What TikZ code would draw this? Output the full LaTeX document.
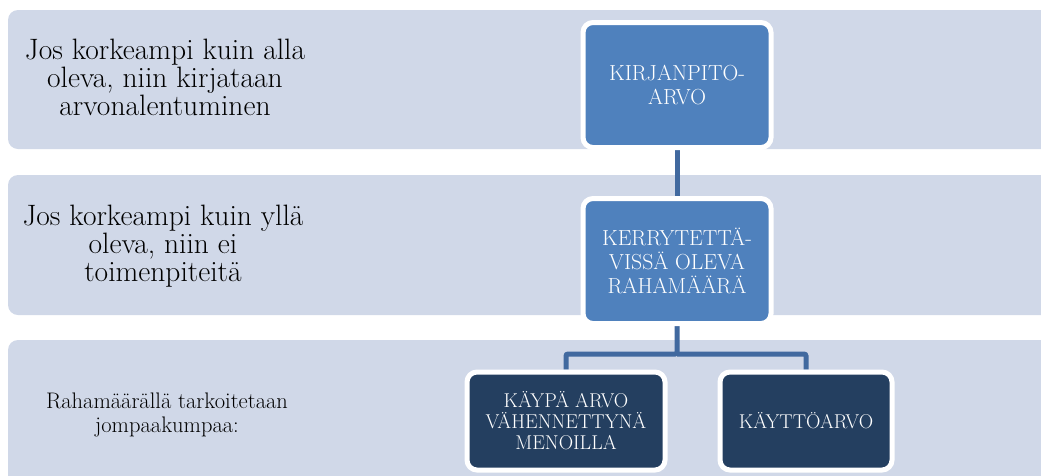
\documentclass[tikz,border=0pt]{standalone}
\usetikzlibrary{backgrounds}
\definecolor{bandgray}{HTML}{D0D8E8}
\definecolor{boxblue}{HTML}{4F81BD}
\definecolor{boxnavy}{HTML}{243F60}
\definecolor{linkblue}{HTML}{41699F}
\begin{document}
\begin{tikzpicture}[x=1pt, y=-1pt,
  bandtext/.style={align=center, text=black, font=\fontsize{29.5}{28}\selectfont},
  valbox/.style={draw=white, line width=5pt, fill=boxblue, rounded corners=10pt,
    text=white, align=center, minimum width=188pt, minimum height=125pt,
    inner sep=0pt, font=\fontsize{21.8}{24}\selectfont},
  navybox/.style={valbox, fill=boxnavy, minimum height=98pt, font=\fontsize{20}{21}\selectfont},
  link/.style={draw=linkblue, line width=5pt}]
\useasboundingbox (0,0) rectangle (1041,475);
% texts on the left of the bands
\node[bandtext] (abovetxt) at (165,77) {Jos korkeampi kuin alla\\oleva, niin kirjataan\\arvonalentuminen};
\node[bandtext] (belowtxt) at (163,246) {Jos korkeampi kuin yllä\\oleva, niin ei\\toimenpiteitä};
\node[bandtext, font=\fontsize{22.5}{24}\selectfont] (meaningtxt) at (167,415) {Rahamäärällä tarkoitetaan\\jompaakumpaa:};
% value boxes
\node[valbox] (kirjanpito) at (677,85) {KIRJANPITO-\\ARVO};
\node[valbox] (rahamaara) at (677,261) {KERRYTETTÄ-\\VISSÄ OLEVA\\RAHAMÄÄRÄ};
\node[navybox, minimum width=198pt] (kaypa) at (566,421) {KÄYPÄ ARVO\\VÄHENNETTYNÄ\\MENOILLA};
\node[navybox, minimum width=172pt] (kaytto) at (806,421) {KÄYTTÖARVO};
\begin{scope}[on background layer]
% bands (right ends run off the page)
\fill[bandgray, rounded corners=10pt] (8,10) rectangle (1060,149);
\fill[bandgray, rounded corners=10pt] (8,175) rectangle (1060,315);
\fill[bandgray, rounded corners=10pt] (8,340) rectangle (1060,495);
% connectors
\draw[link] (kirjanpito.south) -- (rahamaara.north);
\draw[link, rounded corners=2pt] (rahamaara.south) -- ++(0,28) coordinate (fork) -| (kaypa.north);
\draw[link, rounded corners=2pt] (fork) -| (kaytto.north);
\end{scope}
\end{tikzpicture}
\end{document}
